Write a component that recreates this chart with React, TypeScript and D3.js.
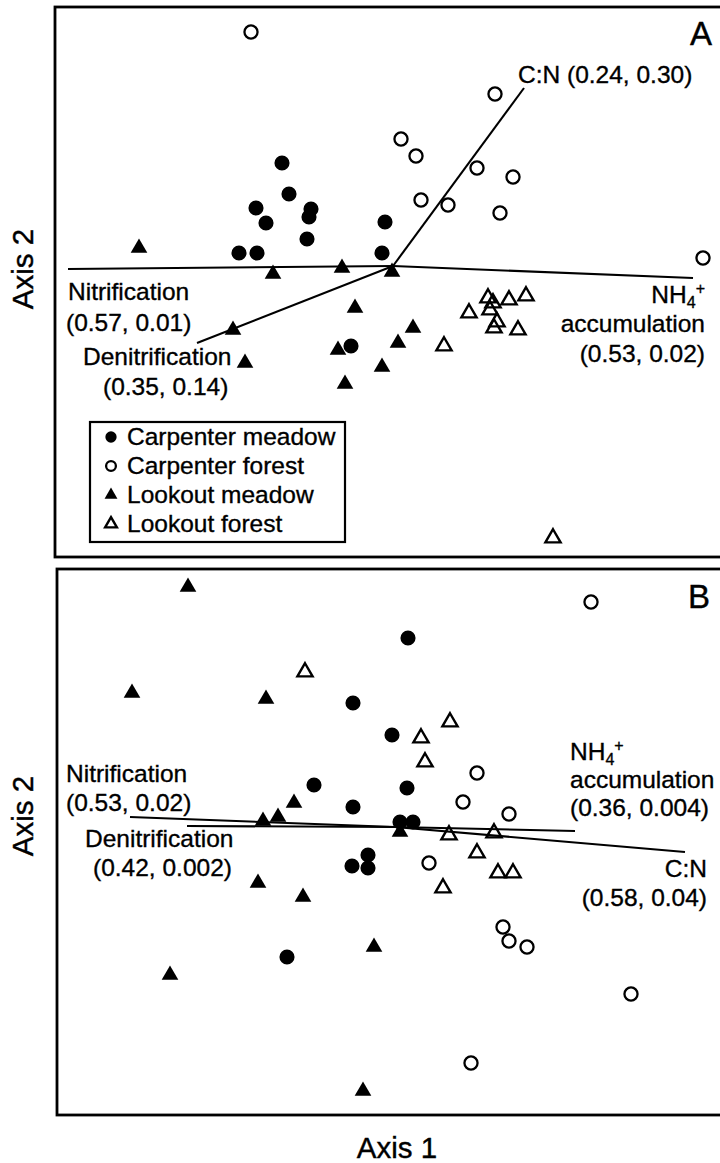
import React from "react";
import * as d3 from "d3";

// Panel A ordination scores [axis1, axis2]
const aCarpenterMeadow: [number, number][] = [
  [-1.08, 1.05], [-1.01, 0.74], [-1.34, 0.6], [-1.24, 0.45], [-0.79, 0.59], [-0.81, 0.51],
  [-0.83, 0.29], [-1.51, 0.15], [-1.33, 0.15], [-0.05, 0.46], [-0.08, 0.15], [-0.39, -0.78],
];
const aCarpenterForest: [number, number][] = [
  [-1.39, 2.36], [1.05, 1.74], [0.11, 1.29], [0.26, 1.12], [0.87, 1.0], [1.23, 0.91],
  [0.31, 0.68], [0.58, 0.63], [1.1, 0.55], [3.13, 0.1],
];
const aLookoutMeadow: [number, number][] = [
  [-2.51, 0.2], [-1.17, -0.06], [-0.48, 0.0], [0.02, -0.04], [-1.57, -0.62], [-1.45, -0.95],
  [-0.35, -0.4], [0.23, -0.6], [0.08, -0.75], [-0.52, -0.82], [-0.08, -0.99], [-0.45, -1.16],
];
const aLookoutForest: [number, number][] = [
  [0.98, -0.3], [1.03, -0.35], [1.0, -0.42], [1.19, -0.32], [1.36, -0.28], [0.79, -0.45],
  [1.07, -0.54], [1.04, -0.6], [1.28, -0.62], [0.54, -0.78], [1.63, -2.7],
];
const aOrigin: [number, number] = [0.03, 0.02];
const aVectors = [
  { name: "Nitrification", end: [-3.22, -0.01] as [number, number] },
  { name: "NH4", end: [3.03, -0.1] as [number, number] },
  { name: "Denitrification", end: [-1.93, -0.75] as [number, number] },
  { name: "C:N", end: [1.34, 1.8] as [number, number] },
];

// Panel B ordination scores
const bCarpenterMeadow: [number, number][] = [
  [0.18, 1.89], [-0.37, 1.24], [0.02, 0.92], [-0.76, 0.42], [-0.37, 0.2], [0.17, 0.39],
  [0.1, 0.05], [0.23, 0.05], [-0.22, -0.28], [-0.22, -0.41], [-0.38, -0.39], [-1.03, -1.3],
];
const bCarpenterForest: [number, number][] = [
  [2.01, 2.25], [0.87, 0.54], [0.73, 0.25], [1.19, 0.13], [0.39, -0.36], [1.13, -1.0],
  [1.19, -1.14], [1.37, -1.2], [2.41, -1.67], [0.81, -2.36],
];
const bLookoutMeadow: [number, number][] = [
  [-2.02, 2.4], [-2.58, 1.34], [-1.24, 1.28], [-0.96, 0.24], [-1.27, 0.06], [-1.12, 0.1],
  [0.1, -0.05], [-1.32, -0.56], [-0.87, -0.7], [-0.16, -1.2], [-2.2, -1.48], [-0.27, -2.64],
];
const bLookoutForest: [number, number][] = [
  [-0.85, 1.55], [0.6, 1.05], [0.31, 0.89], [0.35, 0.65], [0.59, -0.08], [1.04, -0.06],
  [0.87, -0.26], [1.08, -0.46], [1.23, -0.46], [0.53, -0.61],
];
const bOrigin: [number, number] = [0.05, 0.0];
const bVectors = [
  { name: "Nitrification", end: [-2.6, 0.1] as [number, number] },
  { name: "Denitrification", end: [-2.03, 0.01] as [number, number] },
  { name: "NH4", end: [1.85, -0.04] as [number, number] },
  { name: "C:N", end: [2.95, -0.25] as [number, number] },
];

const legendLabels = ["Carpenter meadow", "Carpenter forest", "Lookout meadow", "Lookout forest"];
const legendKinds = ["fc", "oc", "ft", "ot"];

const FONT = "'Liberation Sans', Arial, Helvetica, sans-serif";

const circleBig = d3.symbol().type(d3.symbolCircle).size(180)() as string;
const circleOpen = d3.symbol().type(d3.symbolCircle).size(135)() as string;
const triBig = d3.symbol().type(d3.symbolTriangle).size(120)() as string;
const triOpen = d3.symbol().type(d3.symbolTriangle).size(100)() as string;
const circleLeg = d3.symbol().type(d3.symbolCircle).size(100)() as string;
const circleLegOpen = d3.symbol().type(d3.symbolCircle).size(75)() as string;
const triLeg = d3.symbol().type(d3.symbolTriangle).size(72)() as string;
const triLegOpen = d3.symbol().type(d3.symbolTriangle).size(60)() as string;

function Marker({ kind, x, y, legend = false }: { kind: string; x: number; y: number; legend?: boolean }) {
  const t = `translate(${x},${y})`;
  if (kind === "fc") return <path d={legend ? circleLeg : circleBig} transform={t} fill="#000" />;
  if (kind === "oc")
    return <path d={legend ? circleLegOpen : circleOpen} transform={t} fill="#fff" stroke="#000" strokeWidth={2.3} />;
  if (kind === "ft") return <path d={legend ? triLeg : triBig} transform={t} fill="#000" />;
  return <path d={legend ? triLegOpen : triOpen} transform={t} fill="none" stroke="#000" strokeWidth={2.4} strokeLinejoin="miter" />;
}

function Panel({
  x, y, series, origin, vectors,
}: {
  x: d3.ScaleLinear<number, number>;
  y: d3.ScaleLinear<number, number>;
  series: { kind: string; data: [number, number][] }[];
  origin: [number, number];
  vectors: { name: string; end: [number, number] }[];
}) {
  const [x0, x1] = x.range();
  const [y0, y1] = y.range();
  return (
    <g>
      <rect x={x0} y={y0} width={x1 - x0 + 10} height={y1 - y0} fill="none" stroke="#000" strokeWidth={2.8} />
      {vectors.map((v) => (
        <line key={v.name} x1={x(origin[0])} y1={y(origin[1])} x2={x(v.end[0])} y2={y(v.end[1])} stroke="#000" strokeWidth={2.1} />
      ))}
      {series.map((s) =>
        s.data.map((d, i) => <Marker key={s.kind + i} kind={s.kind} x={x(d[0])} y={y(d[1])} />)
      )}
    </g>
  );
}

const xA = d3.scaleLinear().domain([-3.35, 3.3]).range([55, 720]);
const yA = d3.scaleLinear().domain([2.61, -2.89]).range([7, 557]);
const xB = d3.scaleLinear().domain([-3.33, 3.3]).range([57, 720]);
const yB = d3.scaleLinear().domain([2.58, -2.88]).range([569, 1115]);

export default function App() {
  const ts = { fontFamily: FONT, fontSize: 24.5, fill: "#000", stroke: "#000", strokeWidth: 0.35 } as const;
  const big = { ...ts, fontSize: 33, strokeWidth: 0.4 };
  const axis = { ...ts, fontSize: 29.5, strokeWidth: 0.4 };
  return (
    <svg width={720} height={1163} style={{ position: "absolute", left: 0, top: 0, background: "#fff" }}>
      <rect x={0} y={0} width={720} height={1163} fill="#fff" />
      <Panel
        x={xA}
        y={yA}
        origin={aOrigin}
        vectors={aVectors}
        series={[
          { kind: "fc", data: aCarpenterMeadow },
          { kind: "oc", data: aCarpenterForest },
          { kind: "ft", data: aLookoutMeadow },
          { kind: "ot", data: aLookoutForest },
        ]}
      />
      <Panel
        x={xB}
        y={yB}
        origin={bOrigin}
        vectors={bVectors}
        series={[
          { kind: "fc", data: bCarpenterMeadow },
          { kind: "oc", data: bCarpenterForest },
          { kind: "ft", data: bLookoutMeadow },
          { kind: "ot", data: bLookoutForest },
        ]}
      />

      {/* Panel A labels */}
      <text x={712} y={45} textAnchor="end" style={big}>A</text>
      <text x={518} y={83} style={ts}>C:N (0.24, 0.30)</text>
      <text x={68} y={300} style={ts}>Nitrification</text>
      <text x={66} y={331} style={ts}>(0.57, 0.01)</text>
      <text x={83} y={365} style={ts}>Denitrification</text>
      <text x={103} y={395} style={ts}>(0.35, 0.14)</text>
      <text x={705} y={303} textAnchor="end" style={ts}>
        NH<tspan fontSize={16} dy={5}>4</tspan><tspan fontSize={16} dy={-14}>+</tspan>
      </text>
      <text x={705} y={332} textAnchor="end" style={ts}>accumulation</text>
      <text x={705} y={362} textAnchor="end" style={ts}>(0.53, 0.02)</text>

      {/* Legend */}
      <rect x={90} y={422} width={255} height={120} fill="#fff" stroke="#000" strokeWidth={2.2} />
      {legendLabels.map((l, i) => (
        <g key={l}>
          <Marker kind={legendKinds[i]} x={111} y={437 + i * 29} legend />
          <text x={127} y={445 + i * 29} style={ts}>{l}</text>
        </g>
      ))}

      {/* Panel B labels */}
      <text x={710} y={608} textAnchor="end" style={big}>B</text>
      <text x={66} y={782} style={ts}>Nitrification</text>
      <text x={66} y={811} style={ts}>(0.53, 0.02)</text>
      <text x={85} y={847} style={ts}>Denitrification</text>
      <text x={93} y={876} style={ts}>(0.42, 0.002)</text>
      <text x={570} y={760} style={ts}>
        NH<tspan fontSize={16} dy={5}>4</tspan><tspan fontSize={16} dy={-14}>+</tspan>
      </text>
      <text x={570} y={788} style={ts}>accumulation</text>
      <text x={570} y={816} style={ts}>(0.36, 0.004)</text>
      <text x={707} y={877} textAnchor="end" style={ts}>C:N</text>
      <text x={707} y={906} textAnchor="end" style={ts}>(0.58, 0.04)</text>

      {/* Axis titles */}
      <text x={397} y={1158} textAnchor="middle" style={axis}>Axis 1</text>
      <text transform="translate(33,269) rotate(-90)" textAnchor="middle" style={axis}>Axis 2</text>
      <text transform="translate(33,816) rotate(-90)" textAnchor="middle" style={axis}>Axis 2</text>
    </svg>
  );
}
